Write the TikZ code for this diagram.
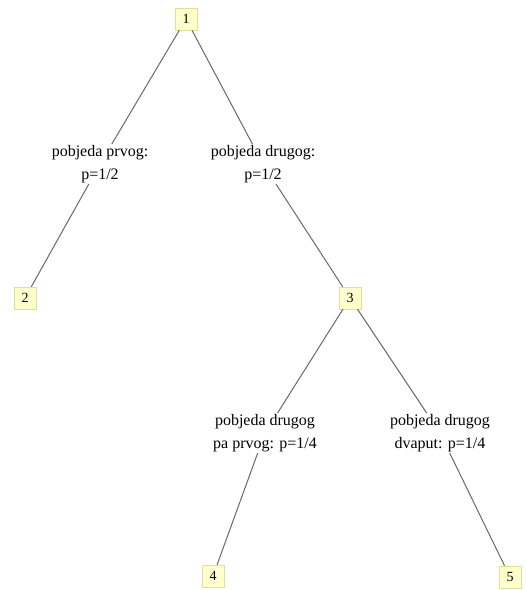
\documentclass[tikz,border=0pt]{standalone}
\usepackage{fontspec}
\setmainfont{Liberation Serif}
\definecolor{boxfill}{RGB}{255,255,205}
\definecolor{boxline}{RGB}{225,225,150}
\definecolor{edgegray}{RGB}{105,105,105}
\tikzset{
	stanje/.style={draw=boxline, fill=boxfill, minimum size=22pt, inner sep=0pt, font=\fontsize{14}{14}\selectfont},
	oznaka/.style={align=center, inner sep=1pt, font=\fontsize{16}{23}\selectfont},
	grana/.style={draw=edgegray, line width=1pt}
}
\begin{document}
\begin{tikzpicture}[x=1pt, y=-1pt]
		\useasboundingbox (0,0) rectangle (526,590);
		\node[stanje] (n1) at (186,19) {1};
		\node[stanje] (n2) at (25,298) {2};
		\node[stanje] (n3) at (350,298) {3};
		\node[stanje] (n4) at (213,576) {4};
		\node[stanje] (n5) at (510,577) {5};
		
		\node[oznaka] (l12) at (100,164) {pobjeda prvog:\\p=1/2};
		\node[oznaka] (l13) at (263,164) {pobjeda drugog:\\p=1/2};
		\node[oznaka] (l34) at (265,433) {pobjeda drugog\\pa prvog: p=1/4};
		\node[oznaka] (l35) at (440,433) {pobjeda drugog\\dvaput: p=1/4};
		
		\draw[grana] (n1) -- (l12) -- (n2);
		\draw[grana] (n1) -- (l13) -- (n3);
		\draw[grana] (n3) -- (l34) -- (n4);
		\draw[grana] (n3) -- (l35) -- (n5);
		
	\end{tikzpicture}
\end{document}
